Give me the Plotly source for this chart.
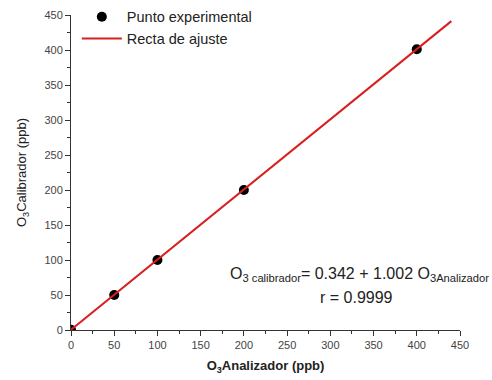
import plotly.graph_objects as go

# Calibration data (ppb)
analizador = [0, 50, 100, 200, 400]
calibrador = [0.3, 50, 100, 200, 401]

# Fitted line: O3 calibrador = 0.342 + 1.002 * O3 analizador
intercept = 0.342
slope = 1.002
fit_x = [0, 440]
fit_y = [intercept + slope * v for v in fit_x]

font_family = "Liberation Sans, Arial, sans-serif"

fig = go.Figure()
fig.add_trace(go.Scatter(
    x=analizador, y=calibrador, mode="markers", name="Punto experimental",
    marker=dict(color="black", size=10),
))
fig.add_trace(go.Scatter(
    x=fit_x, y=fit_y, mode="lines", name="Recta de ajuste",
    line=dict(color="#d81e1e", width=2),
))

axis_common = dict(
    range=[0, 450], dtick=50, showgrid=False, zeroline=False,
    showline=True, linecolor="#333", linewidth=1,
    ticks="outside", ticklen=5, tickcolor="#333",
    tickfont=dict(size=11, color="#444", family=font_family),
    minor=dict(ticks="outside", dtick=25, ticklen=3, tickcolor="#333"),
)

fig.update_layout(
    width=492, height=380,
    margin=dict(l=71, r=32, t=15, b=50, autoexpand=False),
    paper_bgcolor="white", plot_bgcolor="white",
    font=dict(family=font_family, color="#222"),
    xaxis=dict(**axis_common,
               title=dict(text="<b>O<sub>3</sub>Analizador (ppb)</b>",
                          font=dict(size=13), standoff=10)),
    yaxis=dict(**axis_common,
               title=dict(text="O<sub>3</sub>Calibrador (ppb)",
                          font=dict(size=13), standoff=14)),
    legend=dict(x=0.015, y=1.045, xanchor="left", yanchor="top",
                font=dict(size=14.5, color="#222"), bgcolor="rgba(0,0,0,0)",
                tracegroupgap=0, itemwidth=40),
    showlegend=True,
)

fig.add_annotation(
    x=334, y=80, xref="x", yref="y", showarrow=False,
    text="O<sub>3 calibrador</sub>= 0.342 + 1.002 O<sub>3Analizador</sub>",
    font=dict(size=16, color="#222"),
)
fig.add_annotation(
    x=330, y=47, xref="x", yref="y", showarrow=False,
    text="r = 0.9999", font=dict(size=16, color="#222"),
)

fig.write_html("out.html")
